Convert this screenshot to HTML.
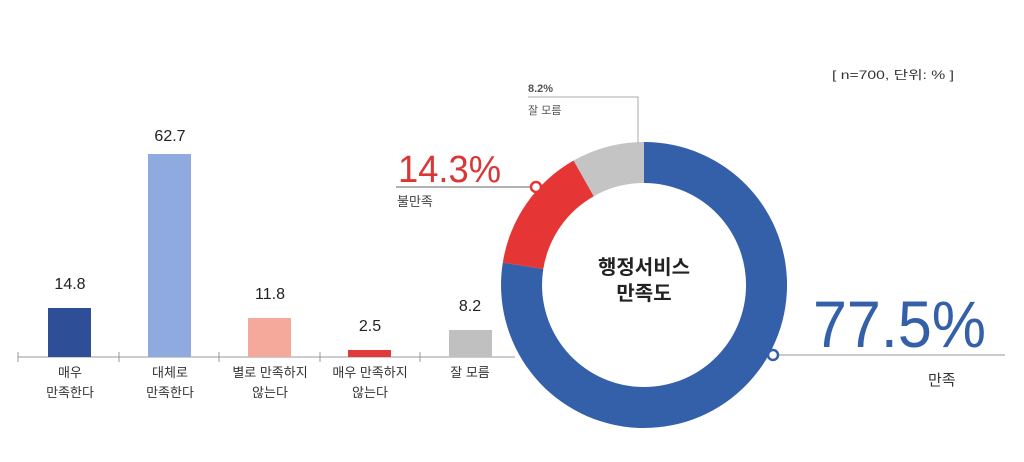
<!DOCTYPE html>
<html><head><meta charset="utf-8"><style>
html,body{margin:0;padding:0;background:#fff;}
svg text{font-family:"Liberation Sans","Noto Sans CJK KR",sans-serif;}
</style></head><body>
<svg width="1024" height="457" viewBox="0 0 1024 457" xmlns="http://www.w3.org/2000/svg">
<rect width="1024" height="457" fill="#fff"/>
<line x1="18" y1="357" x2="515" y2="357" stroke="#999" stroke-width="1"/>
<g stroke="#999" stroke-width="1">
<line x1="18" y1="352" x2="18" y2="362"/><line x1="119" y1="352" x2="119" y2="362"/><line x1="219" y1="352" x2="219" y2="362"/><line x1="320" y1="352" x2="320" y2="362"/><line x1="420" y1="352" x2="420" y2="362"/>
</g>
<rect x="48" y="308" width="43" height="49" fill="#2e4f98"/>
<rect x="148" y="154" width="43" height="203" fill="#8eaadf"/>
<rect x="248" y="318" width="43" height="39" fill="#f4a99a"/>
<rect x="348" y="350" width="43" height="7" fill="#e03a3a"/>
<rect x="449" y="330" width="43" height="27" fill="#c0c0c0"/>
<g font-size="16" fill="#222" text-anchor="middle">
<text x="70" y="289">14.8</text><text x="170" y="141">62.7</text><text x="270" y="299">11.8</text><text x="370" y="331">2.5</text><text x="470" y="311">8.2</text>
</g>
<g font-size="13" fill="#333" text-anchor="middle">
<text x="70" y="377">매우</text><text x="70" y="397">만족한다</text>
<text x="170" y="377">대체로</text><text x="170" y="397">만족한다</text>
<text x="270" y="377">별로 만족하지</text><text x="270" y="397">않는다</text>
<text x="370" y="377">매우 만족하지</text><text x="370" y="397">않는다</text>
<text x="470" y="377">잘 모름</text>
</g>
<path d="M644,142 A143,143 0 1 1 502.8,262.6 L543.3,269 A102,102 0 1 0 644,183 Z" fill="#3460aa"/>
<path d="M502.8,262.6 A143,143 0 0 1 573.6,160.5 L593.8,196.2 A102,102 0 0 0 543.3,269 Z" fill="#e53535"/>
<path d="M573.6,160.5 A143,143 0 0 1 644,142 L644,183 A102,102 0 0 0 593.8,196.2 Z" fill="#c4c4c4"/>
<g font-size="20" font-weight="bold" fill="#222" text-anchor="middle">
<text x="644" y="274">행정서비스</text><text x="644" y="300">만족도</text>
</g>
<polyline points="528,97 638,97 638,143" fill="none" stroke="#aaa" stroke-width="1"/>
<text x="528" y="92" font-size="11" font-weight="bold" fill="#555">8.2%</text>
<text x="528" y="114" font-size="11" fill="#555">잘 모름</text>
<line x1="396" y1="187" x2="536" y2="187" stroke="#666" stroke-width="1"/>
<circle cx="536" cy="187" r="5" fill="#fff" stroke="#e53535" stroke-width="2.5"/>
<text x="398" y="182" font-size="38" fill="#d93636" textLength="103" lengthAdjust="spacingAndGlyphs">14.3%</text>
<text x="397" y="206" font-size="13" fill="#444">불만족</text>
<line x1="773" y1="355" x2="1005" y2="355" stroke="#999" stroke-width="1"/>
<circle cx="773" cy="355" r="5" fill="#fff" stroke="#3460aa" stroke-width="2.5"/>
<text x="813" y="347" font-size="66" fill="#3460aa" textLength="173" lengthAdjust="spacingAndGlyphs">77.5%</text>
<text x="928" y="385" font-size="15" fill="#333">만족</text>
<text x="832" y="79" font-size="12" fill="#333" textLength="122" lengthAdjust="spacingAndGlyphs">[ n=700, 단위: % ]</text>
</svg>
</body></html>
